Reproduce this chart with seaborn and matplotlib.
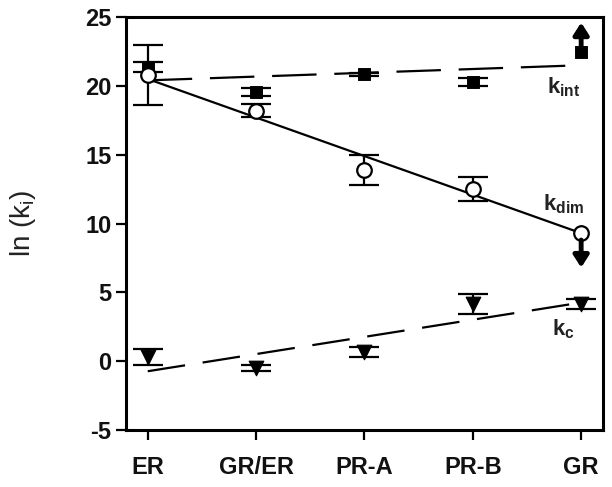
import matplotlib
matplotlib.use("Agg")
import matplotlib.pyplot as plt
import seaborn as sns
import numpy as np
import pandas as pd

receptors = ['ER', 'GR/ER', 'PR-A', 'PR-B', 'GR']

# ln(k_int), filled squares (GR is a lower limit)
k_int = [21.35, 19.55, 20.85, 20.3, 22.45]
k_int_err = [0.35, 0.3, 0.12, 0.3, 0.0]
k_int_fit = [20.4, 21.5]

# ln(k_dim), open circles (GR is an upper limit)
k_dim = [20.8, 18.2, 13.9, 12.5, 9.3]
k_dim_err = [2.2, 0.45, 1.1, 0.85, 0.0]
k_dim_fit = [20.5, 9.3]

# ln(k_c), down triangles
k_c = [0.3, -0.5, 0.67, 4.15, 4.15]
k_c_err = [0.55, 0.22, 0.38, 0.75, 0.35]
k_c_fit = [-0.73, 4.26]

sns.set_style("ticks")
plt.rcParams['font.family'] = ['Liberation Sans', 'DejaVu Sans']
plt.rcParams['mathtext.fontset'] = 'custom'
plt.rcParams['mathtext.rm'] = 'Liberation Sans'
plt.rcParams['mathtext.bf'] = 'Liberation Sans:bold'
plt.rcParams['axes.unicode_minus'] = False

fig, ax = plt.subplots(figsize=(6.12, 4.87), dpi=100)
x = np.arange(len(receptors))
ends = [x[0], x[-1]]

# fitted lines
fits = pd.DataFrame({
    'x': ends * 3,
    'y': k_int_fit + k_dim_fit + k_c_fit,
    'series': ['int'] * 2 + ['dim'] * 2 + ['c'] * 2,
})
sns.lineplot(data=fits[fits.series == 'int'], x='x', y='y', ax=ax,
             color='black', lw=1.6, dashes=(20, 8), legend=False)
sns.lineplot(data=fits[fits.series == 'dim'], x='x', y='y', ax=ax,
             color='black', lw=1.6, legend=False)
sns.lineplot(data=fits[fits.series == 'c'], x='x', y='y', ax=ax,
             color='black', lw=1.6, dashes=(17, 8), legend=False)

ekw = dict(fmt='none', ecolor='black', elinewidth=1.6, capsize=11, capthick=1.6)
ax.errorbar(x[:4], k_int[:4], yerr=k_int_err[:4], **ekw)
ax.errorbar(x[:4], k_dim[:4], yerr=k_dim_err[:4], **ekw)
ax.errorbar(x, k_c, yerr=k_c_err, **ekw)

sns.scatterplot(x=x, y=k_int, ax=ax, marker='s', s=70, color='black',
                edgecolor='black', zorder=5)
sns.scatterplot(x=x, y=k_dim, ax=ax, marker='o', s=110, color='white',
                edgecolor='black', linewidth=1.6, zorder=5)
sns.scatterplot(x=x, y=k_c, ax=ax, marker='v', s=110, color='black',
                edgecolor='black', zorder=5)

# limit arrows at GR
aprops = dict(arrowstyle='-|>,head_width=0.45,head_length=0.7', color='black',
              lw=3.5, shrinkA=0, shrinkB=0)
ax.annotate('', xy=(x[-1], 24.6), xytext=(x[-1], k_int[-1] + 0.3),
            arrowprops=aprops, zorder=6)
ax.annotate('', xy=(x[-1], 6.8), xytext=(x[-1], k_dim[-1] - 0.5),
            arrowprops=aprops, zorder=6)

lab = dict(fontsize=16, ha='center', va='center', color='#222222')
ax.text(3.84, 19.9, r'$\mathbf{k_{int}}$', **lab)
ax.text(3.84, 11.4, r'$\mathbf{k_{dim}}$', **lab)
ax.text(3.84, 2.3, r'$\mathbf{k_{c}}$', **lab)

ax.set_xlim(-0.2, 4.2)
ax.set_ylim(-5, 25)
ax.set_yticks([-5, 0, 5, 10, 15, 20, 25])
ax.set_xticks(x)
ax.set_xticklabels(receptors)
ax.set_xlabel('')
ax.set_ylabel(r'ln (k$_{\mathrm{i}}$)', fontsize=20, labelpad=34, color='#222222')

for sp in ax.spines.values():
    sp.set_visible(True)
    sp.set_linewidth(2.2)
    sp.set_color('black')
ax.tick_params(axis='both', which='both', direction='out', length=7, width=1.6,
               labelsize=17, top=False, right=False, colors='black',
               labelcolor='#111111')
ax.tick_params(axis='x', pad=12)
for t in ax.get_xticklabels() + ax.get_yticklabels():
    t.set_fontweight('bold')

fig.subplots_adjust(left=0.206, right=0.985, top=0.965, bottom=0.117)
fig.savefig('out.png', dpi=100)
